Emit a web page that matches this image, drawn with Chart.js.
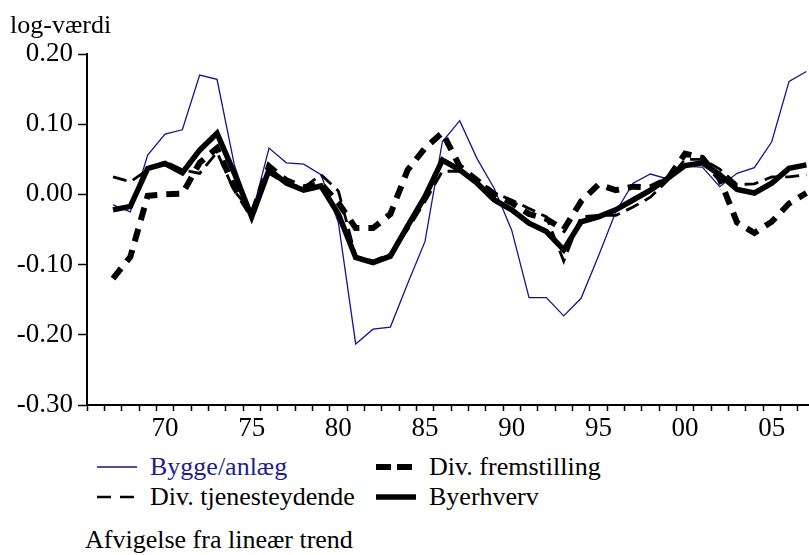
<!DOCTYPE html>
<html>
<head>
<meta charset="utf-8">
<script src="https://cdn.jsdelivr.net/npm/chart.js@4.4.1/dist/chart.umd.min.js"></script>
<style>
    html, body {
        margin: 0;
        padding: 0;
        background: #fff;
        overflow: hidden;
    }
    #wrap {
        position: relative;
        width: 809px;
        height: 555px;
        font-family: "Liberation Serif", "DejaVu Serif", serif;
        color: #000;
    }
    #chart {
        position: absolute;
        left: 0;
        top: 0;
    }
    .txt {
        position: absolute;
        font-size: 26px;
        line-height: 26px;
        white-space: nowrap;
    }
    .item {
        position: absolute;
        height: 26px;
        font-size: 26px;
        line-height: 26px;
        white-space: nowrap;
    }
    .item svg {
        position: absolute;
        left: 0;
        top: 3px;
    }
    .item span {
        position: absolute;
        left: 53px;
        top: 0;
    }
</style>
</head>
<body>
<div id="wrap">
    <canvas id="chart" width="809" height="445"></canvas>
    <div class="txt" id="ytitle" style="left: 10px; top: 12px;">log-værdi</div>

    <div class="item" style="left: 97px; top: 454px;">
        <svg width="42" height="20"><line x1="0" y1="10" x2="40" y2="10" stroke="#14148c" stroke-width="1.3"/></svg>
        <span style="color: #1e1e8c;">Bygge/anlæg</span>
    </div>
    <div class="item" style="left: 376px; top: 454px;">
        <svg width="42" height="20"><line x1="0" y1="10" x2="40" y2="10" stroke="#000" stroke-width="6" stroke-dasharray="15 6"/></svg>
        <span>Div. fremstilling</span>
    </div>
    <div class="item" style="left: 97px; top: 484px;">
        <svg width="42" height="20"><line x1="0" y1="10" x2="40" y2="10" stroke="#000" stroke-width="2.5" stroke-dasharray="14 9"/></svg>
        <span>Div. tjenesteydende</span>
    </div>
    <div class="item" style="left: 376px; top: 484px;">
        <svg width="42" height="20"><line x1="0" y1="10" x2="40" y2="10" stroke="#000" stroke-width="5.5"/></svg>
        <span>Byerhverv</span>
    </div>

    <div class="txt" id="note" style="left: 85px; top: 527px;">Afvigelse fra lineær trend</div>
</div>

<script>
// Years on the x axis (one point per year)
const years = [
    1967, 1968, 1969, 1970, 1971, 1972, 1973, 1974, 1975, 1976,
    1977, 1978, 1979, 1980, 1981, 1982, 1983, 1984, 1985, 1986,
    1987, 1988, 1989, 1990, 1991, 1992, 1993, 1994, 1995, 1996,
    1997, 1998, 1999, 2000, 2001, 2002, 2003, 2004, 2005, 2006,
    2007
];

// Year ticks (boundaries drawn between them) and labelled years
const tickYears = [
    1966, 1967, 1968, 1969, 1970, 1971, 1972, 1973, 1974, 1975, 1976,
    1977, 1978, 1979, 1980, 1981, 1982, 1983, 1984, 1985, 1986,
    1987, 1988, 1989, 1990, 1991, 1992, 1993, 1994, 1995, 1996,
    1997, 1998, 1999, 2000, 2001, 2002, 2003, 2004, 2005, 2006,
    2007
];
const labelYears = [1970, 1975, 1980, 1985, 1990, 1995, 2000, 2005];

// Deviation from linear trend, log values
const bygge = [
    -0.015, -0.025, 0.056, 0.086, 0.092, 0.170, 0.164, 0.042, -0.030, 0.066,
    0.045, 0.043, 0.028, -0.040, -0.213, -0.192, -0.189, -0.127, -0.067, 0.075,
    0.105, 0.051, 0.008, -0.051, -0.147, -0.147, -0.173, -0.148, -0.088, -0.025,
    0.016, 0.029, 0.022, 0.040, 0.039, 0.011, 0.030, 0.038, 0.075, 0.161,
    0.175
];
const fremstilling = [
    -0.120, -0.089, -0.002, 0.000, 0.001, 0.045, 0.066, 0.010, -0.030, 0.040,
    0.020, 0.010, 0.015, -0.012, -0.048, -0.048, -0.028, 0.035, 0.066, 0.088,
    0.040, 0.020, 0.000, -0.012, -0.028, -0.035, -0.050, -0.010, 0.014, 0.006,
    0.011, 0.010, 0.022, 0.058, 0.052, 0.022, -0.040, -0.055, -0.039, -0.013,
    0.002
];
const tjeneste = [
    0.025, 0.018, 0.035, 0.047, 0.035, 0.030, 0.060, 0.005, -0.025, 0.030,
    0.015, 0.010, 0.028, 0.005, -0.088, -0.095, -0.085, -0.050, -0.010, 0.033,
    0.033, 0.022, 0.002, -0.008, -0.020, -0.032, -0.095, -0.032, -0.030, -0.030,
    -0.018, -0.004, 0.020, 0.050, 0.050, 0.036, 0.014, 0.015, 0.025, 0.025,
    0.028
];
const byerhverv = [
    -0.022, -0.017, 0.037, 0.044, 0.031, 0.063, 0.087, 0.030, -0.032, 0.035,
    0.016, 0.006, 0.012, -0.028, -0.090, -0.097, -0.088, -0.045, -0.003, 0.049,
    0.035, 0.016, -0.008, -0.022, -0.041, -0.053, -0.079, -0.039, -0.032, -0.022,
    -0.008, 0.006, 0.023, 0.041, 0.045, 0.028, 0.007, 0.002, 0.016, 0.037,
    0.042
];

const yTicks = [-0.3, -0.2, -0.1, 0.0, 0.1, 0.2];

function toPoints(values) {
    return values.map((v, i) => ({x: years[i], y: v}));
}

const tickFont = {family: "'Liberation Serif', serif", size: 27};

new Chart(document.getElementById('chart'), {
    type: 'line',
    data: {
        datasets: [
            {
                label: 'Byerhverv',
                data: toPoints(byerhverv),
                borderColor: '#000',
                borderWidth: 5.5,
                order: 1
            },
            {
                label: 'Div. tjenesteydende',
                data: toPoints(tjeneste),
                borderColor: '#000',
                borderWidth: 2.8,
                borderDash: [14, 7],
                order: 2
            },
            {
                label: 'Div. fremstilling',
                data: toPoints(fremstilling),
                borderColor: '#000',
                borderWidth: 6,
                borderDash: [13, 9],
                order: 3
            },
            {
                label: 'Bygge/anlæg',
                data: toPoints(bygge),
                borderColor: '#14148c',
                borderWidth: 1.3,
                order: 4
            }
        ]
    },
    options: {
        responsive: false,
        animation: false,
        layout: {
            padding: {top: 54, left: 0, right: 0, bottom: 0}
        },
        elements: {
            point: {radius: 0},
            line: {tension: 0, borderCapStyle: 'butt', borderJoinStyle: 'miter', fill: false}
        },
        plugins: {
            legend: {display: false},
            tooltip: {enabled: false}
        },
        scales: {
            x: {
                type: 'linear',
                min: 1965.5,
                max: 2007.15,
                afterBuildTicks: (scale) => {
                    scale.ticks = tickYears.map(v => ({value: v}));
                },
                afterFit: (scale) => {
                    scale.height = 40;
                },
                ticks: {
                    autoSkip: false,
                    maxRotation: 0,
                    padding: 2,
                    color: '#000',
                    font: tickFont,
                    callback: (value) => labelYears.includes(value) ? String(value).slice(2) : ''
                },
                grid: {
                    offset: true,
                    drawOnChartArea: false,
                    drawTicks: true,
                    tickLength: 6,
                    tickWidth: 1.5,
                    color: '#000'
                },
                border: {display: true, color: '#000', width: 2}
            },
            y: {
                min: -0.3,
                max: 0.2,
                afterBuildTicks: (scale) => {
                    scale.ticks = yTicks.map(v => ({value: v}));
                },
                afterFit: (scale) => {
                    scale.width = 87;
                },
                ticks: {
                    padding: 5,
                    color: '#000',
                    font: tickFont,
                    callback: (value) => value.toFixed(2)
                },
                grid: {
                    drawOnChartArea: false,
                    drawTicks: true,
                    tickLength: 9,
                    tickWidth: 1.5,
                    color: '#000'
                },
                border: {display: true, color: '#000', width: 2}
            }
        }
    }
});
</script>
</body>
</html>
